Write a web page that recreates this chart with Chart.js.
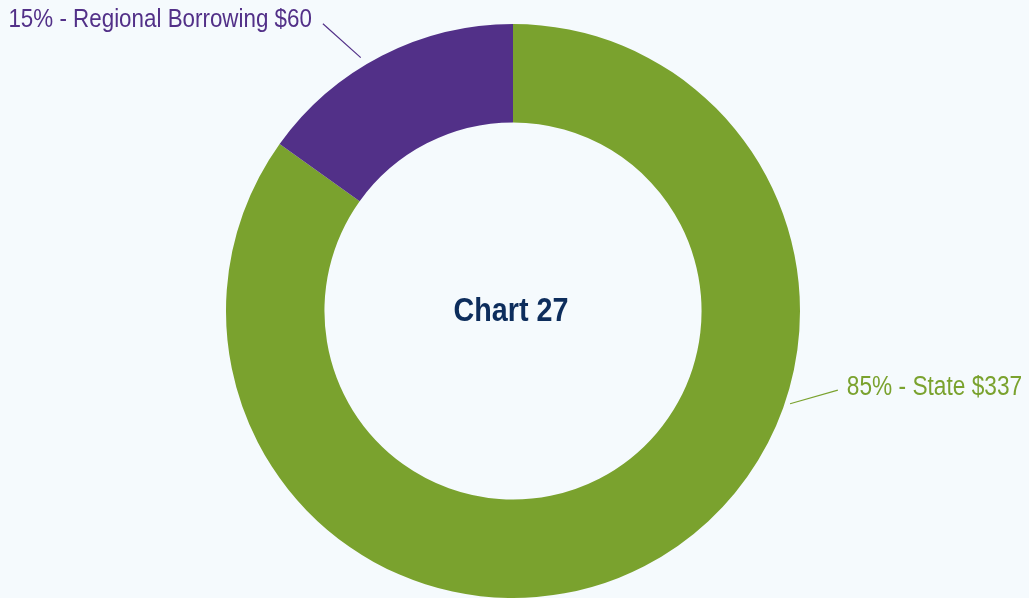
<!DOCTYPE html>
<html>
<head>
<meta charset="utf-8">
<script src="https://cdn.jsdelivr.net/npm/chart.js@4/dist/chart.umd.min.js"></script>
<style>
  html, body { margin: 0; padding: 0; background: #f5fafd; }
  #wrap { width: 1029px; height: 598px; position: relative; }
</style>
</head>
<body>
<div id="wrap"><canvas id="c" width="1029" height="598"></canvas></div>
<script>
const categories = ['State', 'Regional Borrowing'];
const amounts = [337, 60];
const colors = ['#7aa22e', '#523088'];
const centerTitle = 'Chart 27';

const total = amounts.reduce((a, b) => a + b, 0);
const FONT = '"Liberation Sans", Arial, sans-serif';

// Draws text horizontally compressed to give a condensed face.
function condensedText(ctx, text, x, y, font, squeeze, align) {
  ctx.save();
  ctx.font = font;
  ctx.textBaseline = 'alphabetic';
  const w = ctx.measureText(text).width * squeeze;
  let left = x;
  if (align === 'right') left = x - w;
  else if (align === 'center') left = x - w / 2;
  ctx.translate(left, y);
  ctx.scale(squeeze, 1);
  ctx.textAlign = 'left';
  ctx.fillText(text, 0, 0);
  ctx.restore();
}

// Outside labels with leader lines; placement given as angle (deg from top, clockwise)
// and radius factors relative to the doughnut's outer radius.
const labelPlacement = [
  { angle: 108.5, lineFrom: 1.018, lineTo: 1.165, textDx: 9, textDy: 5, align: 'left', toAngle: 103.7, size: 27, squeeze: 0.84 },
  { angle: -31, lineFrom: 1.03, lineTo: 1.2, textDx: -11, textDy: 3, align: 'right', toAngle: -33.5, size: 25, squeeze: 0.895 }
];

const outsideLabels = {
  id: 'outsideLabels',
  afterDatasetsDraw(chart) {
    const ctx = chart.ctx;
    const meta = chart.getDatasetMeta(0);
    meta.data.forEach((arc, i) => {
      const p = labelPlacement[i];
      const r = arc.outerRadius;
      const a1 = p.angle * Math.PI / 180, a2 = p.toAngle * Math.PI / 180;
      const x1 = arc.x + Math.sin(a1) * r * p.lineFrom;
      const y1 = arc.y - Math.cos(a1) * r * p.lineFrom;
      const x2 = arc.x + Math.sin(a2) * r * p.lineTo;
      const y2 = arc.y - Math.cos(a2) * r * p.lineTo;
      ctx.save();
      ctx.strokeStyle = colors[i];
      ctx.lineWidth = 1.2;
      ctx.beginPath();
      ctx.moveTo(x1, y1);
      ctx.lineTo(x2, y2);
      ctx.stroke();
      const pct = Math.round(amounts[i] / total * 100);
      const text = pct + '% - ' + categories[i] + ' $' + amounts[i];
      ctx.fillStyle = colors[i];
      condensedText(ctx, text, x2 + p.textDx, y2 + p.textDy, p.size + 'px ' + FONT, p.squeeze, p.align);
      ctx.restore();
    });
    // centre title
    const a = meta.data[0];
    ctx.save();
    ctx.fillStyle = '#0d2d5c';
    condensedText(ctx, centerTitle, a.x - 2, a.y + 10, 'bold 33px ' + FONT, 0.87, 'center');
    ctx.restore();
  }
};

new Chart(document.getElementById('c'), {
  type: 'doughnut',
  data: {
    labels: categories,
    datasets: [{
      data: amounts,
      backgroundColor: colors,
      borderWidth: 0,
      hoverOffset: 0
    }]
  },
  options: {
    responsive: false,
    animation: false,
    cutout: '65.7%',
    layout: { padding: { top: 24, bottom: 0, left: 0, right: 3 } },
    plugins: {
      legend: { display: false },
      tooltip: { enabled: false }
    }
  },
  plugins: [outsideLabels]
});
</script>
</body>
</html>
